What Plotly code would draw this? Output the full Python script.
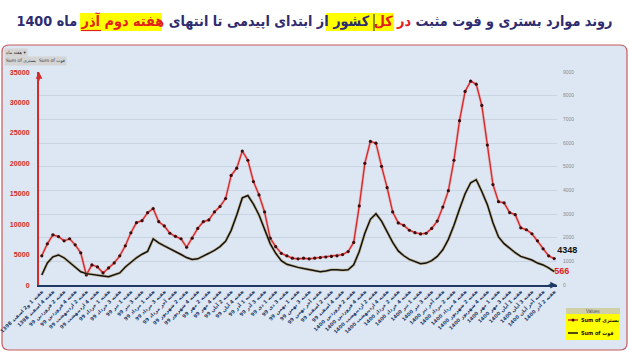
import plotly.graph_objects as go

# ---------------- data ----------------
periods = [
    ("اسفند", "1398", ["1 و2", "3", "4"]),
    ("فروردین", "99", ["1", "2", "3", "4"]),
    ("اردیبهشت", "99", ["1", "2", "3", "4", "آخر"]),
    ("خرداد", "99", ["1", "2", "3", "4"]),
    ("تیر", "99", ["1", "2", "3", "4"]),
    ("مرداد", "99", ["1", "2", "3", "4", "آخر"]),
    ("شهریور", "99", ["1", "2", "3", "4"]),
    ("مهر", "99", ["1", "2", "3", "4"]),
    ("آبان", "99", ["1", "2", "3", "4", "آخر"]),
    ("آذر", "99", ["1", "2", "3", "4"]),
    ("دی", "99", ["1", "2", "3", "4"]),
    ("بهمن", "99", ["1", "2", "3", "4", "آخر"]),
    ("اسفند", "99", ["1", "2", "3", "4"]),
    ("فروردین", "1400", ["1", "2", "3", "4"]),
    ("اردیبهشت", "1400", ["1", "2", "3", "4"]),
    ("خرداد", "1400", ["1", "2", "3", "4", "آخر"]),
    ("تیر", "1400", ["1", "2", "3", "4", "آخر"]),
    ("مرداد", "1400", ["1", "2", "3", "4"]),
    ("شهریور", "1400", ["1", "2", "3", "4", "آخر"]),
    ("مهر", "1400", ["1", "2", "3", "4"]),
    ("آبان", "1400", ["1", "2", "3", "4", "آخر"]),
    ("آذر", "1400", ["1", "2"]),
]
categories = [f"هفته {w} {m} {y}" for m, y, ws in periods for w in ws]

hospitalized = [
    4790, 6770, 8250, 7950, 7260, 7600, 6600, 5280, 1650, 3300, 2970, 1980, 2800, 3630, 4790, 6440,
    8580, 10240, 10570, 11890, 12550, 10400,
    9700, 8500, 8000, 7600, 6200, 7700, 9300, 10400, 10700, 12000, 12900, 14200, 18000, 19200,
    22000, 20500, 17000, 14800, 12000, 7700,
    6300, 5200, 4800, 4400, 4300, 4400, 4300, 4400, 4500, 4600, 4700, 4800, 5000, 5500, 7000,
    13000, 20000, 23600, 23300, 19500,
    16000, 12000, 10200, 9800, 9000, 8600, 8400, 8500, 9300, 10500, 12800, 15500, 20500, 27000,
    31800, 33500, 33000, 29500, 23000,
    16500, 13700, 13500, 11900, 11560, 9400, 9080, 8420, 7260, 5940, 4790, 4348,
]
deaths = [
    420, 930, 1190, 1270, 1150, 950, 740, 560, 480, 440, 390, 380, 350, 420, 510, 760, 970, 1150,
    1300, 1420, 1950, 1780,
    1650, 1540, 1410, 1290, 1160, 1080, 1105, 1210, 1340, 1465, 1620, 1850, 2310, 2960, 3680, 3780,
    3420, 2960, 2310, 1750,
    1340, 1030, 875, 800, 745, 695, 645, 590, 565, 590, 645, 645, 620, 645, 850, 1415, 2185, 2775,
    3010, 2700,
    2260, 1800, 1440, 1235, 1080, 975, 900, 925, 1030, 1210, 1490, 1930, 2520, 3215, 3855, 4320,
    4450, 3950, 3395,
    2633, 2031, 1748, 1543, 1363, 1208, 1144, 1054, 926, 848, 720, 566,
]

left_ticks = [0, 5000, 10000, 15000, 20000, 25000, 30000, 35000]
right_ticks = [0, 1000, 2000, 3000, 4000, 5000, 6000, 7000, 8000, 9000]

series_names = ["Sum of بستری", "Sum of فوت"]

title_text = (
    "روند موارد بستری و فوت مثبت "
    "<span style='color:#e3201b'>در</span> "
    "<span style='color:#e3201b'>کل</span> کشور "
    "از ابتدای اپیدمی تا انتهای "
    "<span style='color:#e3201b'>هفته دوم آذر</span> ماه 1400"
)

# ---------------- layout geometry (pixels) ----------------
W, H = 629, 355
L, R, T, B = 39, 72, 72, 70
pw, ph = W - L - R, H - T - B


def px(x):
    return (x - L) / pw


def py(y):
    return (H - B - y) / ph


PERSIAN = "DejaVu Sans"
NAVY = "#1f3864"
RED = "#d62b2b"

fig = go.Figure()

# glow under lines
fig.add_trace(go.Scatter(x=categories, y=hospitalized, mode="lines", yaxis="y",
                         line=dict(color="rgba(235,140,140,0.4)", width=3),
                         hoverinfo="skip", showlegend=False))
fig.add_trace(go.Scatter(x=categories, y=deaths, mode="lines", yaxis="y2",
                         line=dict(color="rgba(175,135,55,0.45)", width=3),
                         hoverinfo="skip", showlegend=False))

red_text = [""] * (len(hospitalized) - 1) + [str(hospitalized[-1])]
blk_text = [""] * (len(deaths) - 1) + [str(deaths[-1])]

fig.add_trace(go.Scatter(
    x=categories, y=hospitalized, name=series_names[0], yaxis="y",
    mode="lines+markers+text", text=red_text, textposition="top right",
    textfont=dict(family="Liberation Sans", size=9, color="#111111", weight="bold"),
    line=dict(color=RED, width=1.4),
    marker=dict(size=3.2, color="#3a0d0d"),
    cliponaxis=False, showlegend=False,
))
fig.add_trace(go.Scatter(
    x=categories, y=deaths, name=series_names[1], yaxis="y2",
    mode="lines+text", text=blk_text, textposition="middle right",
    textfont=dict(family="Liberation Sans", size=9, color="#e3201b", weight="bold"),
    line=dict(color="#111111", width=1.5),
    cliponaxis=False, showlegend=False,
))


def rect(x0, y0, x1, y1, fill, line=None, layer="above"):
    return dict(type="rect", xref="paper", yref="paper", layer=layer,
                x0=px(x0), x1=px(x1), y0=py(y1), y1=py(y0), fillcolor=fill,
                line=line or dict(width=0))


shapes = [
    # title highlights
    rect(326, 13, 394, 31, "#ffff00", layer="below"),
    rect(80, 13, 162, 31, "#ffff00", layer="below"),
    dict(type="line", xref="paper", yref="paper", layer="below", x0=px(81), x1=px(101),
         y0=py(30.5), y1=py(30.5), line=dict(color="#e3201b", width=1.2)),
    dict(type="line", xref="paper", yref="paper", layer="below", x0=px(374), x1=px(374),
         y0=py(14), y1=py(31), line=dict(color="#222222", width=1)),
    # outer rounded frame (light blue)
    dict(type="path", xref="paper", yref="paper", layer="below",
         path=(f"M {px(9)} {py(45)} L {px(620)} {py(45)} Q {px(627)} {py(45)} {px(627)} {py(52)} "
               f"L {px(627)} {py(343)} Q {px(627)} {py(350)} {px(620)} {py(350)} "
               f"L {px(9)} {py(350)} Q {px(2)} {py(350)} {px(2)} {py(343)} "
               f"L {px(2)} {py(52)} Q {px(2)} {py(45)} {px(9)} {py(45)} Z"),
         fillcolor="#dde7f3", line=dict(color="#c9595d", width=1.2)),
    # legend box
    rect(566, 308, 620, 340, "#ffff00"),
    rect(566, 308, 620, 314, "#cfcfa8"),
    dict(type="line", xref="paper", yref="paper", x0=px(568), x1=px(578), y0=py(320), y1=py(320),
         line=dict(color=RED, width=1.5)),
    dict(type="circle", xref="paper", yref="paper", x0=px(571.5), x1=px(574.5), y0=py(321.5),
         y1=py(318.5), fillcolor="#3a0d0d", line=dict(width=0)),
    dict(type="line", xref="paper", yref="paper", x0=px(568), x1=px(578), y0=py(333), y1=py(333),
         line=dict(color="#111111", width=1.5)),
]

annotations = [
    # axis arrow heads
    dict(x=0, y=1.0, xref="paper", yref="paper", text="", showarrow=True, ax=0, ay=10,
         arrowhead=2, arrowsize=0.9, arrowwidth=1.5, arrowcolor=RED),
    dict(x=1.0, y=0, xref="paper", yref="paper", text="", showarrow=True, ax=-10, ay=0,
         arrowhead=2, arrowsize=0.9, arrowwidth=1.5, arrowcolor=NAVY),
    # pivot field buttons
    dict(x=px(4), y=py(52), xref="paper", yref="paper", xanchor="left", yanchor="middle",
         text="هفته ماه ▾", showarrow=False, bgcolor="#d4d4d4", borderpad=1,
         font=dict(family=PERSIAN, size=4.5, color="#333333")),
    dict(x=px(4), y=py(61), xref="paper", yref="paper", xanchor="left", yanchor="middle",
         text="Sum of بستری", showarrow=False, bgcolor="#d4d4d4", borderpad=1,
         font=dict(family=PERSIAN, size=4.5, color="#333333")),
    dict(x=px(37), y=py(61), xref="paper", yref="paper", xanchor="left", yanchor="middle",
         text="Sum of فوت", showarrow=False, bgcolor="#d4d4d4", borderpad=1,
         font=dict(family=PERSIAN, size=4.5, color="#333333")),
    # legend texts
    dict(x=px(593), y=py(311), xref="paper", yref="paper", xanchor="center", yanchor="middle",
         text="Values", showarrow=False, font=dict(family="Liberation Sans", size=4.5, color="#555555")),
    dict(x=px(579), y=py(320), xref="paper", yref="paper", xanchor="left", yanchor="middle",
         text="\u200e" + series_names[0], showarrow=False,
         font=dict(family="DejaVu Sans Condensed", size=5.5, color="#111111", weight="bold")),
    dict(x=px(579), y=py(333), xref="paper", yref="paper", xanchor="left", yanchor="middle",
         text="\u200e" + series_names[1], showarrow=False,
         font=dict(family="DejaVu Sans Condensed", size=5.5, color="#111111", weight="bold")),
]

fig.update_layout(
    width=W, height=H,
    margin=dict(l=L, r=R, t=T, b=B, autoexpand=False),
    paper_bgcolor="white",
    plot_bgcolor="rgba(0,0,0,0)",
    showlegend=False,
    title=dict(text=title_text, x=0.5, xref="container", xanchor="center", y=0.94, yanchor="middle",
               font=dict(family="DejaVu Sans Condensed", size=14.3, color="#2e2b6f", weight="bold")),
    xaxis=dict(
        type="category", range=[-0.5, len(categories) - 0.5], automargin=False,
        tickmode="array", tickvals=categories[::2], ticktext=categories[::2],
        tickangle=-45, tickfont=dict(family=PERSIAN, size=5, color=NAVY, weight="bold"),
        showline=True, linecolor=NAVY, linewidth=1.5, showgrid=False, ticks="",
    ),
    yaxis=dict(
        range=[0, 35000], tickvals=left_ticks, tickformat="d", showgrid=False, zeroline=False,
        showline=True, linecolor=RED, linewidth=1.5, ticks="", automargin=False,
        tickfont=dict(family="Liberation Sans", size=7.2, color="#d42a2a", weight="bold"),
        ticklabelstandoff=6,
    ),
    yaxis2=dict(
        range=[0, 9000], tickvals=right_ticks, tickformat="d", overlaying="y", side="right",
        showgrid=True, gridcolor="#c9d4e2", gridwidth=1, zeroline=False, showline=False,
        tickfont=dict(family="Liberation Sans", size=5, color="#8a8a8a"), automargin=False,
        ticklabelstandoff=5,
    ),
    shapes=shapes,
    annotations=annotations,
)

fig.write_html("out.html")
